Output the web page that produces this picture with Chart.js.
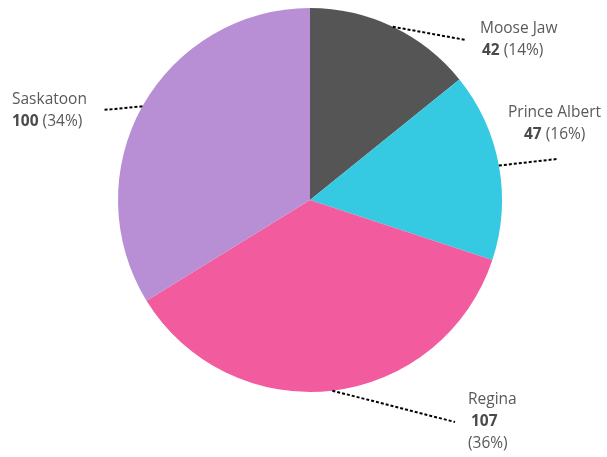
<!DOCTYPE html>
<html>
<head>
<meta charset="utf-8">
<script src="https://cdn.jsdelivr.net/npm/chart.js@4"></script>
<style>
  html, body { margin: 0; padding: 0; background: #fff; }
  #wrap { width: 607px; height: 457px; }
</style>
</head>
<body>
<div id="wrap"><canvas id="pie" width="607" height="457"></canvas></div>
<script>
const cities = ['Moose Jaw', 'Prince Albert', 'Regina', 'Saskatoon'];
const counts = [42, 47, 107, 100];
const colors = ['#555555', '#35C9E2', '#F25C9E', '#B88FD4'];

// where each label sits: end of leader line, then text lines
const labelSpots = [
    { end: [466, 40], lines: [[480, 29, 'name'], [482, 51, 'value']] },
    { end: [557, 159], lines: [[508, 113, 'name'], [524, 135, 'value']] },
    { end: [455, 422], lines: [[468, 400, 'name'], [471, 422, 'num'], [468, 444, 'pct']] },
    { end: [103, 110], lines: [[12, 100, 'name'], [12, 122, 'value']] }
];

const total = counts.reduce((a, b) => a + b, 0);
const FONT = '15.5px "Open Sans", sans-serif';
const BOLD = 'bold 15.5px "Open Sans", sans-serif';

const calloutPlugin = {
    id: 'callouts',
    afterDatasetsDraw(chart) {
        const ctx = chart.ctx;
        const arcs = chart.getDatasetMeta(0).data;
        arcs.forEach((arc, i) => {
            const mid = (arc.startAngle + arc.endAngle) / 2;
            const sx = arc.x + Math.cos(mid) * arc.outerRadius;
            const sy = arc.y + Math.sin(mid) * arc.outerRadius;
            const spot = labelSpots[i];

            ctx.save();
            ctx.strokeStyle = '#000';
            ctx.lineWidth = 2;
            ctx.setLineDash([3, 2]);
            ctx.beginPath();
            ctx.moveTo(sx, sy);
            ctx.lineTo(spot.end[0], spot.end[1]);
            ctx.stroke();
            ctx.setLineDash([]);

            const pct = '(' + Math.round(counts[i] / total * 100) + '%)';
            ctx.textBaseline = 'middle';
            ctx.textAlign = 'left';
            spot.lines.forEach(([x, y, kind]) => {
                if (kind === 'name') {
                    ctx.font = FONT;
                    ctx.fillStyle = '#595959';
                    ctx.fillText(cities[i], x, y);
                } else if (kind === 'num') {
                    ctx.font = BOLD;
                    ctx.fillStyle = '#4a4a4a';
                    ctx.fillText(String(counts[i]), x, y);
                } else if (kind === 'pct') {
                    ctx.font = FONT;
                    ctx.fillStyle = '#595959';
                    ctx.fillText(pct, x, y);
                } else {
                    ctx.font = BOLD;
                    ctx.fillStyle = '#4a4a4a';
                    const num = String(counts[i]);
                    ctx.fillText(num, x, y);
                    const w = ctx.measureText(num + ' ').width;
                    ctx.font = FONT;
                    ctx.fillStyle = '#595959';
                    ctx.fillText(pct, x + w, y);
                }
            });
            ctx.restore();
        });
    }
};

new Chart(document.getElementById('pie'), {
    type: 'pie',
    data: {
        labels: cities,
        datasets: [{
            data: counts,
            backgroundColor: colors,
            borderWidth: 0
        }]
    },
    options: {
        responsive: false,
        animation: false,
        layout: { padding: { top: 8, bottom: 65, left: 118, right: 105 } },
        plugins: {
            legend: { display: false },
            tooltip: { enabled: false }
        }
    },
    plugins: [calloutPlugin]
});
</script>
</body>
</html>
